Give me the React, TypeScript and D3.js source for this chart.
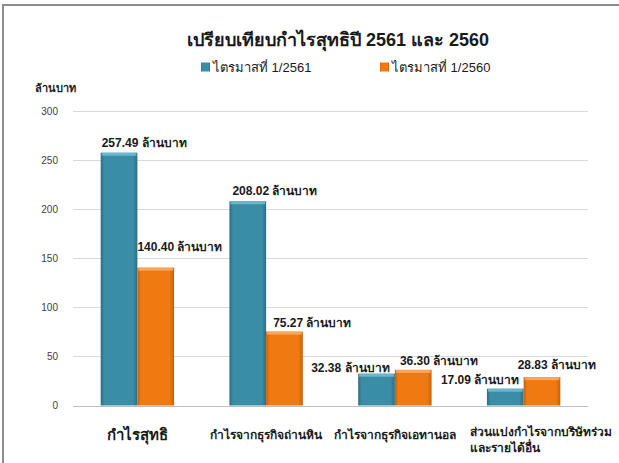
import React, { useEffect, useRef } from "react"
import * as d3 from "d3"

const title = "เปรียบเทียบกำไรสุทธิปี 2561 และ 2560"
const unitLabel = "ล้านบาท"
const seriesNames = ["ไตรมาสที่ 1/2561", "ไตรมาสที่ 1/2560"]
const categories = [
  ["กำไรสุทธิ"],
  ["กำไรจากธุรกิจถ่านหิน"],
  ["กำไรจากธุรกิจเอทานอล"],
  ["ส่วนแบ่งกำไรจากบริษัทร่วม", "และรายได้อื่น"],
]
const q1_2561 = [257.49, 208.02, 32.38, 17.09]
const q1_2560 = [140.4, 75.27, 36.3, 28.83]
const yTicks = [0, 50, 100, 150, 200, 250, 300]

// hand placed data labels in the original (dx from bar left, dy from bar top)
const labelOffsets = [
  [[1, -10], [0, -21]],
  [[3, -10], [7, -9]],
  [[-47, -6], [5, -9]],
  [[-46, -9], [-6, -12]],
]

const W = 619
const H = 463
const FONT = "Tahoma, 'Liberation Sans', sans-serif"
const colors = ["#3a8da6", "#f07a12"]
const darker = ["#2b6e82", "#c95f06"]
const lighter = ["#6cb5cb", "#f9a65a"]

export default function App() {
  const ref = useRef<SVGSVGElement>(null)

  useEffect(() => {
    const svg = d3.select(ref.current!)
    svg.selectAll("*").remove()

    const margin = { top: 111, right: 31, bottom: 57, left: 73 }

    const x0 = d3
      .scaleBand<number>()
      .domain(d3.range(categories.length))
      .range([margin.left, W - margin.right])
      .paddingInner(0.43)
      .paddingOuter(0.215)
    const x1 = d3.scaleBand<number>().domain([0, 1]).range([0, x0.bandwidth()])
    const y = d3.scaleLinear().domain([0, 300]).range([H - margin.bottom - 0.5, margin.top])

    const defs = svg.append("defs")
    colors.forEach((c, i) => {
      const g = defs.append("linearGradient").attr("id", "grad" + i).attr("x1", 0).attr("x2", 1).attr("y1", 0).attr("y2", 0)
      g.append("stop").attr("offset", "0%").attr("stop-color", darker[i])
      g.append("stop").attr("offset", "10%").attr("stop-color", c)
      g.append("stop").attr("offset", "88%").attr("stop-color", c)
      g.append("stop").attr("offset", "100%").attr("stop-color", darker[i])
    })

    // frame
    svg.append("line").attr("x1", 3).attr("x2", W).attr("y1", 5).attr("y2", 5).attr("stroke", "#8c8c8c").attr("stroke-width", 2)
    svg.append("line").attr("x1", 3).attr("x2", 3).attr("y1", 4).attr("y2", H).attr("stroke", "#8c8c8c").attr("stroke-width", 2)

    // gridlines
    svg
      .append("g")
      .selectAll("line")
      .data(yTicks)
      .join("line")
      .attr("x1", margin.left)
      .attr("x2", W - margin.right)
      .attr("y1", (d) => Math.round(y(d)) + 0.5)
      .attr("y2", (d) => Math.round(y(d)) + 0.5)
      .attr("stroke", (d) => (d === 0 ? "#bfbfbf" : "#d9d9d9"))
      .attr("stroke-width", 1)

    // y axis labels
    svg
      .append("g")
      .selectAll("text")
      .data(yTicks)
      .join("text")
      .attr("x", 58)
      .attr("y", (d) => y(d))
      .attr("dy", "0.35em")
      .attr("text-anchor", "end")
      .attr("font-family", FONT)
      .attr("font-size", 10)
      .attr("fill", "#404040")
      .text((d) => d)

    svg
      .append("text")
      .attr("x", 35)
      .attr("y", 88)
      .attr("dy", "0.35em")
      .attr("font-family", FONT)
      .attr("font-size", 11)
      .attr("font-weight", "bold")
      .attr("fill", "#222")
      .text(unitLabel)

    // title
    svg
      .append("text")
      .attr("x", 338)
      .attr("y", 40)
      .attr("dy", "0.35em")
      .attr("text-anchor", "middle")
      .attr("font-family", FONT)
      .attr("font-size", 18)
      .attr("font-weight", "bold")
      .attr("fill", "#1a1a1a")
      .text(title)

    // legend
    const legendX = [201, 380]
    seriesNames.forEach((name, i) => {
      const g = svg.append("g").attr("transform", `translate(${legendX[i]},67)`)
      g.append("rect").attr("x", 0).attr("y", -4.5).attr("width", 9).attr("height", 9).attr("fill", `url(#grad${i})`)
      g.append("text")
        .attr("x", 12)
        .attr("y", 0)
        .attr("dy", "0.35em")
        .attr("font-family", FONT)
        .attr("font-size", 13)
        .attr("fill", "#1a1a1a")
        .text(name)
    })

    const series = [q1_2561, q1_2560]

    // bars
    const groups = svg
      .append("g")
      .selectAll("g")
      .data(categories.map((_, i) => i))
      .join("g")
      .attr("transform", (i) => `translate(${x0(i)},0)`)

    series.forEach((vals, s) => {
      groups
        .append("rect")
        .attr("x", x1(s)!)
        .attr("y", (i) => y(vals[i]))
        .attr("width", x1.bandwidth())
        .attr("height", (i) => y(0) - y(vals[i]))
        .attr("fill", `url(#grad${s})`)
      groups
        .append("rect")
        .attr("x", x1(s)! + 1)
        .attr("y", (i) => y(vals[i]))
        .attr("width", x1.bandwidth() - 2)
        .attr("height", 3)
        .attr("fill", lighter[s])
    })

    // data labels
    series.forEach((vals, s) => {
      svg
        .append("g")
        .selectAll("text")
        .data(vals)
        .join("text")
        .attr("x", (v, i) => x0(i)! + x1(s)! + labelOffsets[i][s][0])
        .attr("y", (v, i) => y(v) + labelOffsets[i][s][1])
        .attr("dy", "0.35em")
        .attr("font-family", FONT)
        .attr("font-size", 12)
        .attr("font-weight", "bold")
        .attr("fill", "#1a1a1a")
        .text((v) => d3.format(".2f")(v) + " " + unitLabel)
    })

    // category labels
    const cat = svg.append("g")
    categories.forEach((lines, i) => {
      const cx = x0(i)! + x0.bandwidth() / 2
      const multi = lines.length > 1
      const t = cat
        .append("text")
        .attr("x", multi ? cx - 54 : cx)
        .attr("y", multi ? 432 : 435)
        .attr("text-anchor", multi ? "start" : "middle")
        .attr("font-family", FONT)
        .attr("font-size", i === 0 ? 15 : 12)
        .attr("font-weight", "bold")
        .attr("fill", "#1a1a1a")
      lines.forEach((l, k) => {
        t.append("tspan")
          .attr("x", multi ? cx - 54 : cx)
          .attr("dy", k === 0 ? "0.35em" : "1.3em")
          .text(l)
      })
    })
  }, [])

  return <svg ref={ref} width={W} height={H} style={{ position: "absolute", left: 0, top: 0, background: "#fff" }} />
}
